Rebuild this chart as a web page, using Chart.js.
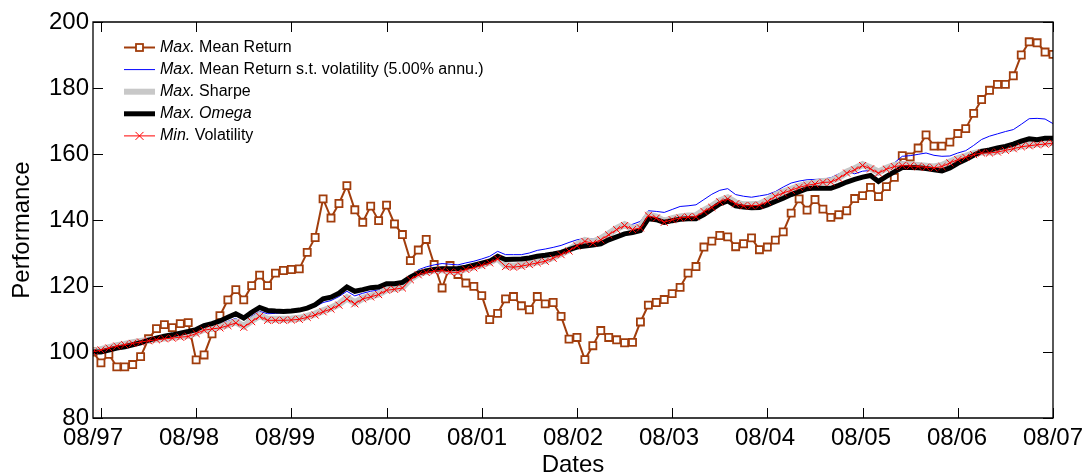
<!DOCTYPE html>
<html>
<head>
<meta charset="utf-8">
<script src="https://cdn.jsdelivr.net/npm/chart.js@4.4.1/dist/chart.umd.min.js"></script>
<style>
  html, body { margin: 0; padding: 0; background: #fff; }
  #wrap { width: 1086px; height: 473px; }
</style>
</head>
<body>
<div id="wrap"><canvas id="c" width="1086" height="473"></canvas></div>
<script>
// Monthly portfolio performance, 07/97 .. 08/07 (index 0 = start, base 100)
const yearLabels = ['08/97', '08/98', '08/99', '08/00', '08/01', '08/02', '08/03', '08/04', '08/05', '08/06', '08/07'];
const yTicks = [80, 100, 120, 140, 160, 180, 200];

const maxMeanReturn = [
  100.0, 96.7, 99.3, 95.5, 95.5, 96.2, 98.6, 104.0, 107.1, 108.3, 107.4, 108.6, 108.9, 97.6, 99.1, 105.5,
  111.0, 115.8, 118.9, 115.8, 120.1, 123.3, 120.1, 123.9, 124.7, 125.0, 125.2, 130.2, 134.7, 146.4, 140.6,
  145.0, 150.4, 143.1, 139.3, 144.2, 139.8, 144.5, 138.8, 135.6, 127.7, 130.9, 134.1, 126.5, 119.4, 126.2,
  123.5, 120.9, 119.9, 117.1, 109.8, 111.7, 116.1, 116.8, 114.0, 112.8, 116.8, 114.6, 115.0, 110.8, 103.9,
  104.4, 97.7, 101.9, 106.5, 104.4, 103.7, 102.8, 102.9, 109.1, 114.2, 115.0, 115.9, 117.7, 119.6, 123.9,
  125.9, 131.8, 133.6, 135.3, 134.9, 131.9, 132.8, 134.6, 131.0, 131.8, 133.9, 136.4, 142.1, 146.4, 143.0,
  146.2, 143.3, 140.8, 141.6, 142.8, 146.5, 147.4, 149.9, 147.1, 150.1, 152.9, 159.5, 159.1, 161.8, 165.8,
  162.4, 162.4, 163.6, 166.2, 167.7, 172.3, 176.5, 179.3, 181.1, 181.1, 183.7, 190.0, 194.0, 193.7, 190.9, 190.2
];

const maxMeanReturnVol5 = [
  100.0, 100.4, 101.0, 101.6, 102.0, 102.5, 103.0, 103.6, 104.0, 104.4, 104.8, 105.2, 105.5, 106.2, 107.4, 107.8,
  108.4, 109.3, 110.2, 108.6, 110.8, 112.3, 111.6, 111.7, 111.9, 112.0, 112.3, 113.0, 113.8, 115.0, 115.6,
  116.8, 118.4, 117.0, 117.8, 118.4, 118.8, 119.8, 120.0, 120.4, 122.5, 124.9, 125.8, 126.4, 126.8, 126.6,
  126.4, 127.0, 127.5, 128.2, 129.0, 130.5, 129.5, 129.5, 129.5, 130.0, 130.8, 131.2, 131.7, 132.3, 133.2,
  134.0, 134.4, 134.2, 134.6, 135.5, 136.7, 137.9, 138.7, 139.6, 142.8, 142.6, 142.3, 143.2, 144.1, 144.3,
  144.6, 146.2, 147.8, 149.0, 149.5, 147.7, 147.2, 146.9, 147.3, 147.7, 148.6, 150.0, 151.2, 151.8, 152.2,
  152.3, 152.4, 152.8, 154.0, 154.6, 154.0, 154.8, 155.0, 153.5, 155.5, 157.3, 159.3, 159.5, 159.9, 160.3,
  159.6, 159.3, 159.4, 160.3, 161.0, 162.6, 164.4, 165.4, 166.1, 166.8, 167.4, 169.0, 170.7, 170.8, 170.6, 169.2
];

const maxSharpe = [
  100.0, 100.7, 101.3, 101.9, 102.3, 102.8, 103.2, 103.6, 103.9, 104.2, 104.5, 104.8, 105.0, 105.9, 106.9, 107.3,
  107.6, 108.3, 109.1, 107.8, 109.5, 111.1, 109.9, 109.9, 109.9, 110.0, 110.2, 110.8, 111.5, 112.5, 113.3,
  114.5, 116.4, 114.9, 116.3, 116.9, 117.6, 118.9, 119.2, 119.7, 122.2, 123.7, 124.4, 124.8, 125.0, 124.5,
  124.4, 125.3, 125.8, 126.5, 127.3, 128.5, 126.2, 126.0, 126.3, 126.8, 127.3, 127.8, 128.7, 129.8, 130.9,
  132.5, 133.8, 133.3, 134.3, 135.8, 137.4, 138.6, 137.4, 137.9, 141.5, 140.9, 139.6, 140.4, 140.9, 141.2,
  141.3, 142.9, 144.1, 145.8, 146.7, 145.2, 144.6, 144.6, 144.8, 145.9, 147.5, 148.5, 149.3, 150.2, 150.8,
  151.2, 151.7, 151.8, 152.9, 154.5, 155.5, 156.8, 155.8, 154.5, 155.7, 156.5, 156.8, 156.7, 156.5, 156.3,
  156.1, 156.5, 157.6, 158.6, 159.3, 160.1, 160.6, 160.6, 160.9, 161.4, 161.9, 162.5, 162.8, 163.1, 163.3, 163.6
];

const maxOmega = [
  100.0, 100.0, 100.6, 101.2, 101.6, 102.2, 102.8, 103.6, 104.2, 104.8, 105.2, 105.7, 106.2, 106.8, 108.0, 108.6,
  109.4, 110.5, 111.6, 110.3, 112.0, 113.5, 112.6, 112.4, 112.3, 112.4, 112.7, 113.3, 114.3, 116.1, 116.6,
  117.8, 119.7, 118.4, 118.9, 119.5, 119.7, 120.7, 120.7, 121.1, 122.7, 123.9, 124.6, 125.0, 125.2, 125.2,
  125.3, 125.7, 126.3, 126.9, 127.5, 129.0, 128.0, 128.1, 128.2, 128.5, 129.0, 129.3, 129.7, 130.2, 131.0,
  131.8, 132.1, 132.4, 132.8, 134.0, 134.9, 135.8, 136.2, 136.8, 140.4, 140.1, 139.3, 139.8, 140.2, 140.4,
  140.4, 141.6, 143.3, 144.9, 145.8, 144.3, 143.9, 143.7, 143.8, 144.6, 145.6, 146.6, 147.7, 148.6, 149.5,
  149.7, 149.6, 149.6, 150.5, 151.5, 152.3, 153.0, 153.5, 151.7, 153.2, 154.6, 155.9, 155.9, 155.8, 155.6,
  155.2, 154.9, 155.8, 157.2, 158.3, 159.6, 160.8, 161.2, 161.8, 162.3, 163.0, 163.9, 164.6, 164.3, 164.8, 164.8
];

const minVolatility = [
  100.0, 100.6, 101.2, 101.8, 102.2, 102.6, 103.0, 103.4, 103.7, 104.0, 104.2, 104.5, 104.7, 105.6, 106.6, 107.0,
  107.3, 108.0, 108.8, 107.5, 109.2, 110.8, 109.6, 109.6, 109.6, 109.7, 109.9, 110.5, 111.2, 112.2, 113.0,
  114.2, 116.1, 114.6, 116.1, 116.7, 117.4, 118.7, 119.0, 119.4, 121.9, 123.4, 124.1, 124.5, 124.7, 124.2,
  124.1, 125.0, 125.5, 126.2, 127.0, 128.2, 125.9, 125.7, 126.0, 126.5, 127.0, 127.5, 128.4, 129.5, 130.6,
  132.2, 133.5, 133.0, 134.0, 135.5, 137.1, 138.3, 137.1, 137.6, 141.3, 140.6, 139.3, 140.1, 140.6, 140.9,
  141.0, 142.6, 143.8, 145.5, 146.4, 144.9, 144.3, 144.3, 144.5, 145.6, 147.2, 148.2, 149.0, 149.9, 150.5,
  150.9, 151.4, 151.5, 152.6, 154.2, 155.2, 156.5, 155.5, 154.2, 155.4, 156.2, 156.5, 156.4, 156.2, 156.0,
  155.8, 156.2, 157.3, 158.3, 159.0, 159.8, 160.3, 160.3, 160.6, 161.1, 161.6, 162.2, 162.5, 162.8, 163.0, 163.3
];

const FONT = '"Liberation Sans", Arial, Helvetica, sans-serif';
const lastMonth = maxMeanReturn.length - 1;
const toXY = arr => arr.map((v, i) => ({ x: i, y: v }));

// Legend rows: italic prefix, regular rest
const legendItems = [
  { it: 'Max.', rest: ' Mean Return', color: '#a13d0c', width: 2, marker: 'rect' },
  { it: 'Max.', rest: ' Mean Return s.t. volatility (5.00% annu.)', color: '#0000ff', width: 1, marker: null },
  { it: 'Max.', rest: ' Sharpe', color: '#c8c8c8', width: 6, marker: null },
  { it: 'Max. Omega', rest: '', color: '#000000', width: 5, marker: null },
  { it: 'Min.', rest: ' Volatility', color: '#ff0000', width: 1, marker: 'cross' }
];

const framePlugin = {
  id: 'frame',
  afterDatasetsDraw(chart) {
    const { ctx, chartArea: a, scales } = chart;
    const xs = scales.x, ys = scales.y;
    ctx.save();
    ctx.strokeStyle = '#000';
    ctx.lineWidth = 1.3;
    ctx.beginPath();
    ctx.rect(a.left, a.top, a.right - a.left, a.bottom - a.top);
    ctx.stroke();
    ctx.lineWidth = 1;
    ctx.beginPath();
    yTicks.forEach(v => {
      const y = Math.round(ys.getPixelForValue(v)) + 0.5;
      ctx.moveTo(a.left, y); ctx.lineTo(a.left + 10, y);
      ctx.moveTo(a.right, y); ctx.lineTo(a.right - 10, y);
    });
    yearLabels.forEach((_, k) => {
      const x = Math.round(xs.getPixelForValue(1 + 12 * k)) + 0.5;
      ctx.moveTo(x, a.bottom); ctx.lineTo(x, a.bottom - 10);
      ctx.moveTo(x, a.top); ctx.lineTo(x, a.top + 10);
    });
    ctx.stroke();
    ctx.restore();
  },
  afterDraw(chart) {
    const { ctx, chartArea: a } = chart;
    ctx.save();
    // axis titles
    ctx.fillStyle = '#000';
    ctx.font = '24px ' + FONT;
    ctx.textAlign = 'center';
    ctx.textBaseline = 'alphabetic';
    ctx.fillText('Dates', (a.left + a.right) / 2, 472);
    ctx.translate(29, 230);
    ctx.rotate(-Math.PI / 2);
    ctx.fillText('Performance', 0, 0);
    ctx.restore();

    // legend
    ctx.save();
    ctx.textBaseline = 'middle';
    ctx.textAlign = 'left';
    legendItems.forEach((it, k) => {
      const y = 47.5 + 22.1 * k;
      ctx.strokeStyle = it.color;
      ctx.lineWidth = it.width;
      ctx.beginPath();
      ctx.moveTo(124, y); ctx.lineTo(155, y);
      ctx.stroke();
      if (it.marker === 'rect') {
        ctx.fillStyle = '#fff';
        ctx.lineWidth = 1.8;
        ctx.fillRect(136, y - 3.5, 7, 7);
        ctx.strokeRect(136, y - 3.5, 7, 7);
      } else if (it.marker === 'cross') {
        ctx.lineWidth = 1;
        ctx.beginPath();
        ctx.moveTo(135.5, y - 4); ctx.lineTo(143.5, y + 4);
        ctx.moveTo(143.5, y - 4); ctx.lineTo(135.5, y + 4);
        ctx.stroke();
      }
      ctx.fillStyle = '#000';
      ctx.font = 'italic 16px ' + FONT;
      ctx.fillText(it.it, 160, y);
      const w = ctx.measureText(it.it).width;
      ctx.font = '16px ' + FONT;
      ctx.fillText(it.rest, 160 + w, y);
    });
    ctx.restore();
  }
};

// keep the plot box fixed: no extra room reserved for overhanging tick labels
const noOverhang = s => { s.paddingLeft = 0; s.paddingRight = 0; s.paddingTop = 0; s.paddingBottom = 0; };

new Chart(document.getElementById('c'), {
  type: 'line',
  data: {
    datasets: [
      {
        label: 'Min. Volatility', data: toXY(minVolatility), order: 1,
        borderColor: '#ff0000', borderWidth: 1, pointStyle: 'crossRot', pointRadius: 5,
        pointBorderColor: '#ff0000', pointBorderWidth: 1, tension: 0
      },
      {
        label: 'Max. Omega', data: toXY(maxOmega), order: 2,
        borderColor: '#000000', borderWidth: 5, pointRadius: 0, tension: 0
      },
      {
        label: 'Max. Sharpe', data: toXY(maxSharpe), order: 3,
        borderColor: '#c8c8c8', borderWidth: 7, pointRadius: 0, tension: 0
      },
      {
        label: 'Max. Mean Return s.t. volatility (5.00% annu.)', data: toXY(maxMeanReturnVol5), order: 4,
        borderColor: '#0000ff', borderWidth: 1, pointRadius: 0, tension: 0
      },
      {
        label: 'Max. Mean Return', data: toXY(maxMeanReturn), order: 5,
        borderColor: '#a13d0c', borderWidth: 2, pointStyle: 'rect', pointRadius: 5,
        pointBackgroundColor: '#ffffff', pointBorderColor: '#a13d0c', pointBorderWidth: 1.8, tension: 0
      }
    ]
  },
  options: {
    responsive: false,
    animation: false,
    devicePixelRatio: 1,
    events: [],
    layout: { padding: { left: 0, right: 33, top: 22, bottom: 0 } },
    plugins: { legend: { display: false }, tooltip: { enabled: false }, title: { display: false } },
    scales: {
      x: {
        type: 'linear', min: 0, max: lastMonth,
        grid: { display: false, drawTicks: false },
        border: { display: false },
        afterBuildTicks: axis => { axis.ticks = yearLabels.map((_, k) => ({ value: k * lastMonth / (yearLabels.length - 1) })); },
        afterFit: s => { s.height = 55; noOverhang(s); },
        ticks: {
          autoSkip: false, maxRotation: 0, minRotation: 0, padding: 6,
          color: '#000', font: { size: 24, family: FONT },
          callback: (v, i) => yearLabels[i]
        }
      },
      y: {
        type: 'linear', min: 80, max: 200,
        grid: { display: false, drawTicks: false },
        border: { display: false },
        afterBuildTicks: axis => { axis.ticks = yTicks.map(v => ({ value: v })); },
        afterFit: s => { s.width = 93; noOverhang(s); },
        ticks: { padding: 4, color: '#000', font: { size: 24, family: FONT } }
      }
    }
  },
  plugins: [framePlugin]
});
</script>
</body>
</html>
